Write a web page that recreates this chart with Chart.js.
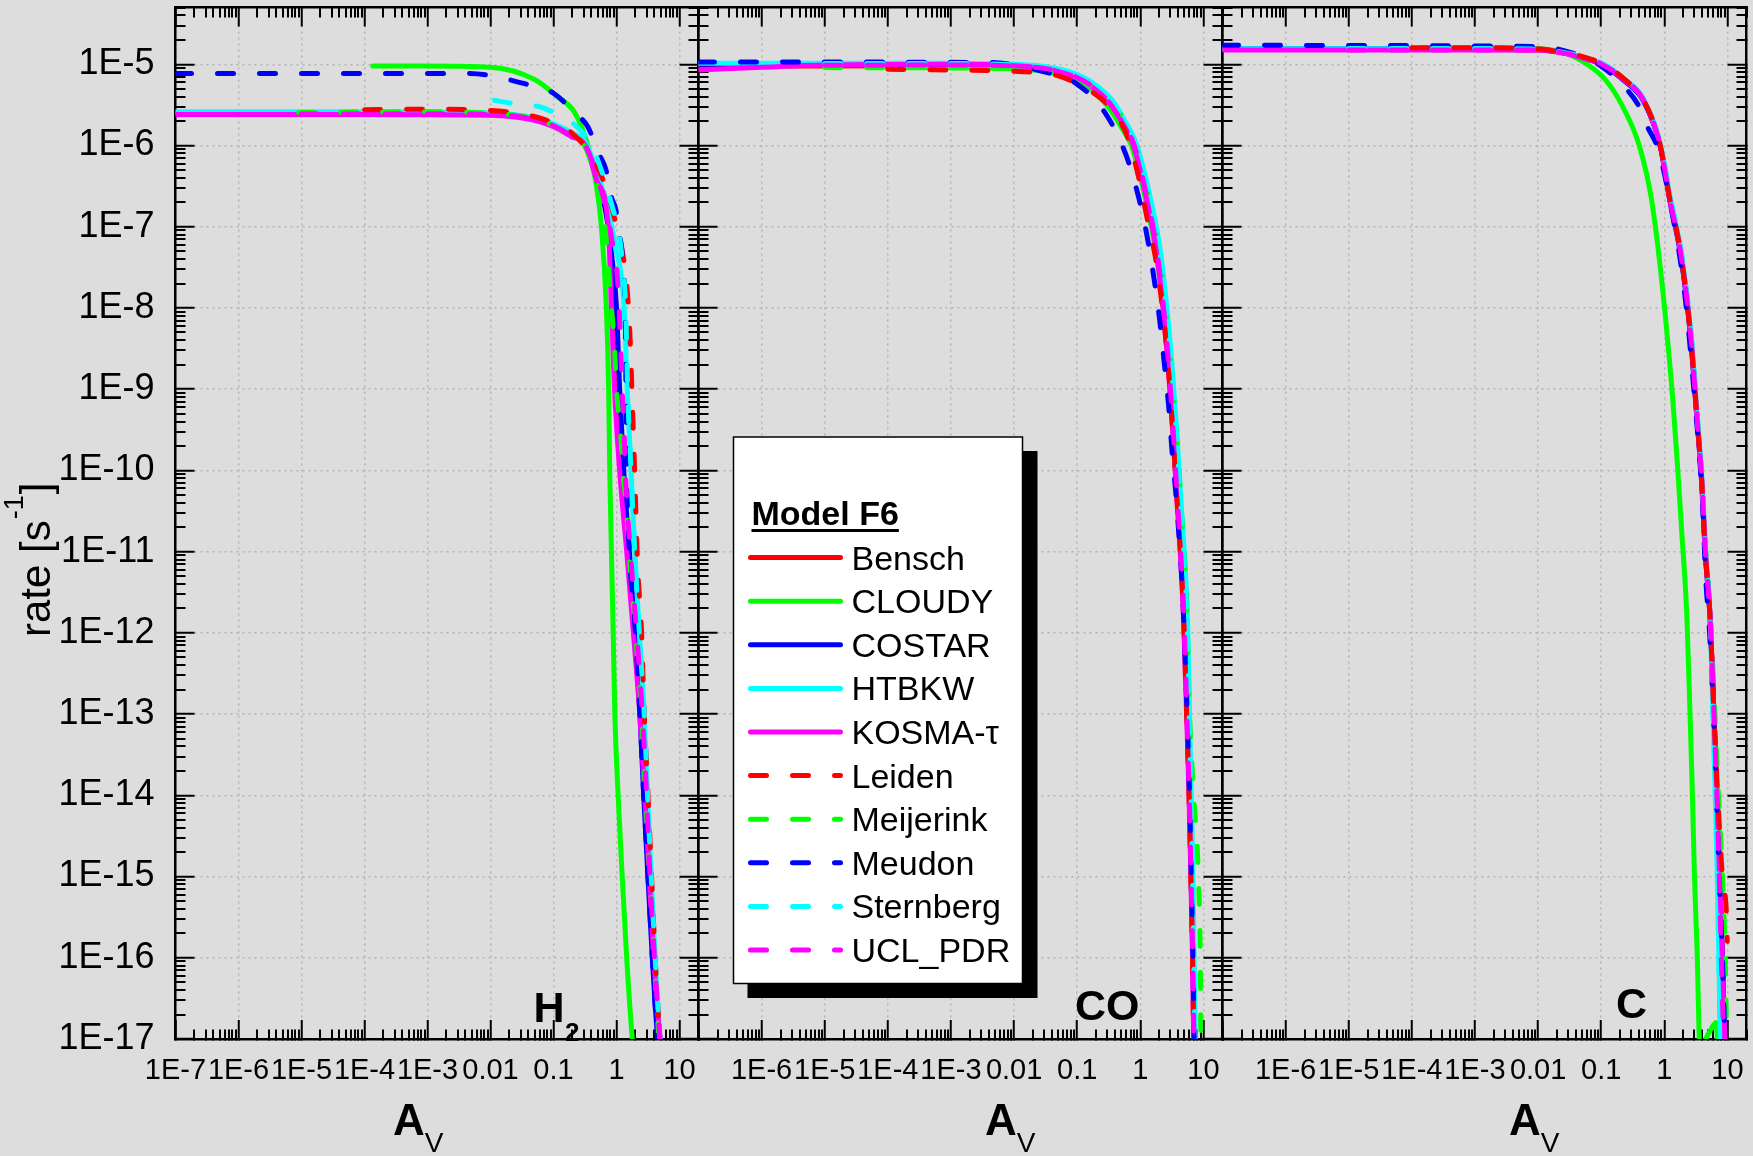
<!DOCTYPE html>
<html>
<head>
<meta charset="utf-8">
<title>Model F6 photo-rates</title>
<script src="https://cdn.jsdelivr.net/npm/chart.js@4.4.1/dist/chart.umd.min.js"></script>
<style>
  html, body { margin: 0; padding: 0; background: #dddddd; }
  #wrap { position: relative; width: 1753px; height: 1156px; overflow: hidden; background: #dddddd; }
  #wrap canvas { position: absolute; left: 0; top: 0; }
</style>
</head>
<body>
<div id="wrap">
  <canvas id="panelH2" width="1753" height="1156"></canvas>
  <canvas id="panelCO" width="1753" height="1156"></canvas>
  <canvas id="panelC" width="1753" height="1156"></canvas>
</div>
<script>
// ---------------- text / categories ----------------
const modelNames = ['Bensch', 'CLOUDY', 'COSTAR', 'HTBKW', 'KOSMA-\u03c4', 'Leiden', 'Meijerink', 'Meudon', 'Sternberg', 'UCL_PDR'];
const legendTitle = 'Model F6';
const speciesMain = ['H', 'CO', 'C'];
const speciesSub = ['2', '', ''];
const xTitleMain = 'A';
const xTitleSub = 'V';
const yTitleMain = 'rate [s';
const yTitleSup = '-1';
const yTitleEnd = ']';

// ---------------- tick labels ----------------
const xMajorTicks = [1e-7, 1e-6, 1e-5, 1e-4, 1e-3, 1e-2, 0.1, 1, 10];
const xTickLabels = ['1E-7', '1E-6', '1E-5', '1E-4', '1E-3', '0.01', '0.1', '1', '10'];
const yMajorTicks = [1e-17, 1e-16, 1e-15, 1e-14, 1e-13, 1e-12, 1e-11, 1e-10, 1e-9, 1e-8, 1e-7, 1e-6, 1e-5];
const yTickLabels = ['1E-17', '1E-16', '1E-15', '1E-14', '1E-13', '1E-12', '1E-11', '1E-10', '1E-9', '1E-8', '1E-7', '1E-6', '1E-5'];
const xRange = [1e-7, 20];
const yRange = [1e-17, 5e-5];

// ---------------- series values [Av, rate] : H2 panel ----------------
const h2Bensch = [[1e-7,2.5e-6],[1e-4,2.5e-6],[1e-2,2.42e-6],[0.05,2.1e-6],[0.1,1.75e-6],[0.19,1.33e-6],[0.32,1.0e-6],[0.5,3.6e-7],[0.76,1e-7],[0.86,1e-8],[0.96,1e-9],[1.15,1e-10],[1.5,1e-11],[1.9,1e-12],[2.4,1e-13],[2.85,1e-14],[3.35,1e-15],[3.95,1e-16],[4.9,1e-17],[5.3,6e-18]];
const h2CLOUDY = [[1.35e-4,9.5e-6],[1e-3,9.5e-6],[1e-2,9.2e-6],[0.05,6.5e-6],[0.115,4.0e-6],[0.22,2.5e-6],[0.35,1.0e-6],[0.48,3.2e-7],[0.575,1e-7],[0.69,1e-8],[0.75,1e-9],[0.78,1e-10],[0.83,1e-11],[0.885,1e-12],[0.94,1e-13],[1.06,1e-14],[1.23,1e-15],[1.45,1e-16],[1.78,1e-17],[1.9,6e-18]];
const h2COSTAR = [[1e-7,2.5e-6],[1e-4,2.5e-6],[1e-2,2.43e-6],[0.05,2.12e-6],[0.1,1.78e-6],[0.19,1.37e-6],[0.32,1.05e-6],[0.5,4e-7],[0.7,1.3e-7],[0.85,4e-8],[1.0,1e-8],[1.12,1e-9],[1.3,1e-10],[1.6,1e-11],[2.0,1e-12],[2.35,1e-13],[2.7,1e-14],[3.15,1e-15],[3.7,1e-16],[4.5,1e-17],[4.9,6e-18]];
const h2HTBKW = [[1e-7,2.6e-6],[1e-4,2.6e-6],[1e-2,2.52e-6],[0.05,2.2e-6],[0.1,1.85e-6],[0.19,1.45e-6],[0.32,1.1e-6],[0.5,4.5e-7],[0.72,1.7e-7],[0.95,6e-8],[1.32,1e-8],[1.48,1e-9],[1.7,1e-10],[1.95,1e-11],[2.3,1e-12],[2.75,1e-13],[3.1,1e-14],[3.55,1e-15],[4.1,1e-16],[4.9,1e-17],[5.3,6e-18]];
const h2KOSMA = [[1e-7,2.4e-6],[1e-4,2.4e-6],[1e-2,2.35e-6],[0.05,2.04e-6],[0.1,1.7e-6],[0.19,1.29e-6],[0.32,1e-6],[0.5,3.5e-7],[0.74,1e-7],[0.83,1e-8],[0.93,1e-9],[1.12,1e-10],[1.45,1e-11],[1.85,1e-12],[2.34,1e-13],[2.8,1e-14],[3.3,1e-15],[3.9,1e-16],[4.9,1e-17],[5.3,6e-18]];
const h2Leiden = [[1e-4,2.75e-6],[1e-3,2.8e-6],[1e-2,2.7e-6],[0.07,2.1e-6],[0.2,1.4e-6],[0.42,7e-7],[0.7,2.8e-7],[1.0,1e-7],[1.35,3.2e-8],[1.55,1e-8],[1.66,3.4e-9],[1.76,9e-10],[1.95,8.5e-11],[2.14,8e-12],[2.5,1e-12],[2.75,1e-13],[3.16,1e-14],[3.6,1e-15],[4.1,1e-16],[4.9,1e-17],[5.3,6e-18]];
const h2Meijerink = [[9e-6,2.55e-6],[1e-3,2.6e-6],[1e-2,2.5e-6],[0.05,2.15e-6],[0.1,1.75e-6],[0.19,1.3e-6],[0.32,9.5e-7],[0.5,3.2e-7],[0.66,1e-7],[0.74,3.2e-8],[0.83,1e-8],[0.93,3.2e-9],[1.0,1e-9],[1.15,3.2e-10],[1.26,1e-10],[1.45,3.2e-11],[1.58,1e-11],[2.0,1e-12],[2.5,1e-13],[2.9,1e-14],[3.4,1e-15],[4.0,1e-16],[4.7,1e-17],[5.1,6e-18]];
const h2Meudon = [[1e-7,7.7e-6],[4e-3,7.7e-6],[0.01,7.3e-6],[0.019,6.5e-6],[0.047,5.4e-6],[0.1,4.4e-6],[0.22,2.5e-6],[0.35,1.7e-6],[0.52,8e-7],[0.68,5e-7],[0.83,2.3e-7],[0.98,1.6e-7],[1.1,8e-8],[1.2,5.7e-8],[1.3,2.5e-8],[1.38,1e-8],[1.41,1e-9],[1.45,1e-10],[1.6,1e-11],[2.0,1e-12],[2.35,1e-13],[2.7,1e-14],[3.16,1e-15],[3.7,1e-16],[4.47,1e-17],[4.9,6e-18]];
const h2Sternberg = [[0.0115,3.6e-6],[0.022,3.3e-6],[0.06,3.0e-6],[0.105,2.5e-6],[0.22,1.78e-6],[0.4,1.0e-6],[0.6,4.5e-7],[0.85,1.8e-7],[1.1,8e-8],[1.26,3.2e-8],[1.4,1e-8],[1.5,1e-9],[1.7,1e-10],[1.95,1e-11],[2.3,1e-12],[2.75,1e-13],[3.1,1e-14],[3.55,1e-15],[4.1,1e-16],[4.9,1e-17],[5.3,6e-18]];
const h2UCL = [[1e-5,2.45e-6],[1e-3,2.45e-6],[1e-2,2.4e-6],[0.05,2.1e-6],[0.1,1.75e-6],[0.19,1.33e-6],[0.32,1e-6],[0.5,4e-7],[0.72,1.4e-7],[0.87,6e-8],[1.0,3.2e-8],[1.1,1e-8],[1.23,1e-9],[1.32,3.2e-10],[1.38,1e-10],[1.66,1e-11],[1.9,2.5e-12],[2.57,1e-13],[3.0,1e-14],[3.4,1e-15],[4.0,1e-16],[4.9,1e-17],[5.3,6e-18]];

// ---------------- series values [Av, rate] : CO panel ----------------
const coBensch = [[1e-7,9.5e-6],[1e-3,9.6e-6],[0.01,9.3e-6],[0.03,8.7e-6],[0.087,7.0e-6],[0.17,5.3e-6],[0.32,3.3e-6],[0.52,1.85e-6],[0.8,1e-6],[1.3,2.1e-7],[1.82,5.2e-8],[2.32,1e-8],[2.8,1.9e-9],[3.3,2.9e-10],[3.85,4.4e-11],[4.35,1e-11],[4.9,1.5e-12],[5.5,1e-13],[6.0,1e-14],[6.4,1e-15],[6.8,1e-16],[7.1,1e-17],[7.3,6e-18]];
const coCLOUDY = [[1.35e-4,9.1e-6],[1e-3,9.1e-6],[0.01,8.8e-6],[0.03,8.2e-6],[0.087,6.6e-6],[0.17,4.8e-6],[0.32,2.9e-6],[0.52,1.6e-6],[0.72,1e-6],[1.22,2.1e-7],[1.75,5e-8],[2.3,1e-8],[2.8,1.9e-9],[3.3,2.9e-10],[3.85,4.4e-11],[4.35,1e-11],[4.9,1.5e-12],[5.5,1e-13],[6.0,1e-14],[6.5,1e-15],[6.9,1e-16],[7.3,1e-17],[7.5,6e-18]];
const coCOSTAR = [[1e-7,1.0e-5],[1e-3,1.0e-5],[0.01,9.8e-6],[0.03,9.2e-6],[0.087,7.5e-6],[0.17,5.7e-6],[0.34,3.5e-6],[0.54,2e-6],[0.82,1e-6],[1.35,2.1e-7],[1.9,5.2e-8],[2.4,1e-8],[2.9,1.9e-9],[3.45,2.9e-10],[4.0,4.4e-11],[4.5,1e-11],[5.1,1.5e-12],[5.6,1e-13],[6.1,1e-14],[6.5,1e-15],[6.9,1e-16],[7.2,1e-17],[7.4,6e-18]];
const coHTBKW = [[1e-7,1.03e-5],[1e-3,1.03e-5],[0.01,1.0e-5],[0.03,9.4e-6],[0.087,7.8e-6],[0.17,6.0e-6],[0.36,3.6e-6],[0.55,2.1e-6],[0.88,1e-6],[1.47,2.1e-7],[2.06,5.2e-8],[2.63,1e-8],[3.19,1.9e-9],[3.78,2.9e-10],[4.39,4.4e-11],[4.95,1e-11],[5.58,1.5e-12],[6.0,1e-13],[6.4,1e-14],[6.8,1e-15],[7.1,1e-16],[7.4,1e-17],[7.6,6e-18]];
const coKOSMA = [[1e-7,8.5e-6],[1e-6,9.2e-6],[1e-5,9.8e-6],[1e-3,1.0e-5],[0.01,9.6e-6],[0.03,8.9e-6],[0.087,7.1e-6],[0.17,5.3e-6],[0.32,3.4e-6],[0.52,1.9e-6],[0.78,1e-6],[1.27,2.1e-7],[1.78,5.2e-8],[2.28,1e-8],[2.76,1.9e-9],[3.27,2.9e-10],[3.79,4.4e-11],[4.28,1e-11],[4.83,1.5e-12],[5.4,1e-13],[5.9,1e-14],[6.3,1e-15],[6.7,1e-16],[7.0,1e-17],[7.2,6e-18]];
const coLeiden = [[1e-4,8.7e-6],[1e-3,8.5e-6],[0.01,8.2e-6],[0.05,7.2e-6],[0.2,4.2e-6],[0.35,2.8e-6],[0.62,1.3e-6],[0.93,4.2e-7],[1.3,1.2e-7],[1.75,4e-8],[2.2,1.1e-8],[2.76,1.9e-9],[3.27,2.9e-10],[3.8,4.4e-11],[4.3,1e-11],[4.85,1.5e-12],[5.4,1e-13],[5.9,1e-14],[6.3,1e-15],[6.7,1e-16],[7.0,1e-17],[7.2,6e-18]];
const coMeijerink = [[1e-5,9.1e-6],[1e-3,9.0e-6],[0.01,8.8e-6],[0.05,7.8e-6],[0.17,5.3e-6],[0.35,3.1e-6],[0.65,1.7e-6],[1.06,5e-7],[1.52,1.5e-7],[1.98,4.7e-8],[2.39,1.4e-8],[2.73,4.4e-9],[3.16,1.4e-9],[3.57,4.2e-10],[4.03,1.26e-10],[4.39,3.8e-11],[4.83,1.2e-11],[5.32,3.5e-12],[6.0,1e-13],[7.0,1e-14],[8.3,1e-15],[8.9,1e-16],[9.1,1e-17],[9.2,6e-18]];
const coMeudon = [[1e-7,1.07e-5],[4e-3,1.05e-5],[0.045,7.4e-6],[0.093,5.9e-6],[0.27,2.6e-6],[0.59,7.7e-7],[0.94,2.3e-7],[1.3,7.1e-8],[1.66,2.2e-8],[2.04,6.7e-9],[2.39,2.1e-9],[2.8,6.3e-10],[3.16,1.8e-10],[3.66,5e-11],[4.08,1.6e-11],[4.5,5e-12],[4.8,1.8e-12],[5.5,1e-13],[6.0,1e-14],[6.4,1e-15],[6.8,1e-16],[7.1,1e-17],[7.3,6e-18]];
const coSternberg = [[1e-5,1.02e-5],[1e-3,1.02e-5],[0.01,9.9e-6],[0.03,9.3e-6],[0.087,7.7e-6],[0.17,5.9e-6],[0.35,3.5e-6],[0.55,2.05e-6],[0.86,1e-6],[1.42,2.1e-7],[2.0,5.2e-8],[2.55,1e-8],[3.1,1.9e-9],[3.7,2.9e-10],[4.3,4.4e-11],[4.85,1e-11],[5.45,1.5e-12],[5.9,1e-13],[6.3,1e-14],[6.7,1e-15],[7.0,1e-16],[7.3,1e-17],[7.5,6e-18]];
const coUCL = [[1e-5,9.7e-6],[1e-3,9.8e-6],[0.01,9.5e-6],[0.03,8.9e-6],[0.087,7.2e-6],[0.17,5.4e-6],[0.32,3.4e-6],[0.52,1.9e-6],[0.8,1e-6],[1.3,2.1e-7],[1.82,5.2e-8],[2.33,1e-8],[2.82,1.9e-9],[3.33,2.9e-10],[3.85,4.4e-11],[4.35,1e-11],[4.9,1.5e-12],[5.45,1e-13],[5.95,1e-14],[6.35,1e-15],[6.75,1e-16],[7.05,1e-17],[7.25,6e-18]];

// ---------------- series values [Av, rate] : C panel ----------------
const cBensch = [[1e-7,1.52e-5],[1e-3,1.52e-5],[0.01,1.5e-5],[0.022,1.4e-5],[0.049,1.22e-5],[0.1,1.0e-5],[0.23,6.4e-6],[0.47,3.6e-6],[0.86,1.0e-6],[1.23,2.2e-7],[1.78,5.4e-8],[2.28,1.3e-8],[2.73,3.2e-9],[3.27,4.8e-10],[3.93,7.2e-11],[4.44,1.1e-11],[5.32,1.5e-12],[6.1,1e-13],[6.8,1e-14],[7.5,1e-15],[8.3,1e-16],[9.1,1e-17],[9.4,6e-18]];
const cCLOUDY = [[1.35e-4,1.6e-5],[1e-3,1.6e-5],[0.01,1.55e-5],[0.025,1.4e-5],[0.062,9.8e-6],[0.117,6.4e-6],[0.21,3.2e-6],[0.4,1e-6],[0.63,2.1e-7],[0.86,3.2e-8],[1.1,4.9e-9],[1.36,7.4e-10],[1.62,1.1e-10],[1.89,1.7e-11],[2.28,1.5e-12],[2.55,1e-13],[2.75,1.4e-14],[3.0,1e-15],[3.3,1.2e-16],[3.66,8e-18],[5.1,1.2e-17],[6.6,1.6e-17],[7.2,5e-18]];
const cCOSTAR = [[1e-7,1.55e-5],[1e-3,1.55e-5],[0.01,1.52e-5],[0.022,1.41e-5],[0.049,1.22e-5],[0.1,1.0e-5],[0.23,6.3e-6],[0.47,3.5e-6],[0.86,9.8e-7],[1.22,2.1e-7],[1.76,5.1e-8],[2.26,1.25e-8],[2.7,3.1e-9],[3.25,4.7e-10],[3.9,7e-11],[4.4,1.05e-11],[5.3,1.5e-12],[6.1,1e-13],[6.8,1e-14],[7.5,1e-15],[8.3,1e-16],[9.0,1e-17],[9.3,6e-18]];
const cHTBKW = [[1e-7,1.55e-5],[1e-3,1.55e-5],[0.01,1.53e-5],[0.022,1.42e-5],[0.049,1.24e-5],[0.1,1.03e-5],[0.23,6.6e-6],[0.47,3.7e-6],[0.86,1.05e-6],[1.25,2.2e-7],[1.8,5.4e-8],[2.3,1.3e-8],[2.76,3.2e-9],[3.3,4.8e-10],[3.95,7.2e-11],[4.45,1.1e-11],[5.3,1.5e-12],[5.9,1e-13],[6.4,1e-14],[6.9,1e-15],[7.3,1e-16],[7.7,1e-17],[7.9,6e-18]];
const cKOSMA = [[1e-7,1.5e-5],[1e-3,1.5e-5],[0.01,1.5e-5],[0.022,1.4e-5],[0.049,1.2e-5],[0.1,1.0e-5],[0.23,6.4e-6],[0.47,3.6e-6],[0.86,9.8e-7],[1.23,2.1e-7],[1.78,5.2e-8],[2.28,1.26e-8],[2.73,3.1e-9],[3.27,4.7e-10],[3.93,7.1e-11],[4.44,1.07e-11],[5.32,1.5e-12],[6.1,1e-13],[6.8,1e-14],[7.5,1e-15],[8.3,1e-16],[9.1,1e-17],[9.4,6e-18]];
const cLeiden = [[1e-4,1.6e-5],[1e-3,1.6e-5],[0.01,1.55e-5],[0.022,1.42e-5],[0.049,1.25e-5],[0.1,1.03e-5],[0.23,6.6e-6],[0.47,3.6e-6],[0.86,1.0e-6],[1.2,2.3e-7],[1.75,5.6e-8],[2.25,1.3e-8],[2.7,3.2e-9],[3.25,4.8e-10],[3.9,7.2e-11],[4.4,1.1e-11],[5.3,1.5e-12],[6.1,1e-13],[7.0,1e-14],[8.3,1e-15],[9.7,3e-16],[9.9,1.6e-16]];
const cMeijerink = [[1e-5,1.55e-5],[1e-3,1.56e-5],[0.01,1.54e-5],[0.022,1.42e-5],[0.049,1.23e-5],[0.1,1.02e-5],[0.23,6.5e-6],[0.47,3.6e-6],[0.86,1e-6],[1.24,2.2e-7],[1.8,5.3e-8],[2.3,1.3e-8],[2.75,3.2e-9],[3.3,4.8e-10],[3.95,7.2e-11],[4.5,1.1e-11],[5.4,1.5e-12],[6.3,1e-13],[7.2,1e-14],[8.3,1e-15],[9.2,1e-16],[9.7,1e-17],[9.9,6e-18]];
const cMeudon = [[1e-7,1.71e-5],[0.01,1.65e-5],[0.05,1.25e-5],[0.1,9.5e-6],[0.22,5.5e-6],[0.39,3.1e-6],[0.54,1.7e-6],[0.8,9e-7],[1.0,4.5e-7],[1.3,1.6e-7],[1.7,5e-8],[2.1,1.5e-8],[2.5,4e-9],[3.1,6e-10],[3.6,1.5e-10],[4.0,4.5e-11],[4.5,5e-12],[5.2,1e-12],[6.0,1e-13],[6.7,1e-14],[7.4,1e-15],[8.3,1e-16],[9.1,1e-17],[9.4,6e-18]];
const cSternberg = [[1e-5,1.56e-5],[1e-3,1.56e-5],[0.01,1.54e-5],[0.022,1.43e-5],[0.049,1.25e-5],[0.1,1.04e-5],[0.23,6.7e-6],[0.47,3.7e-6],[0.86,1.05e-6],[1.26,2.2e-7],[1.82,5.4e-8],[2.32,1.3e-8],[2.78,3.2e-9],[3.32,4.8e-10],[3.97,7.2e-11],[4.47,1.1e-11],[5.3,1.5e-12],[5.9,1e-13],[6.4,1e-14],[6.9,1e-15],[7.3,1e-16],[7.6,1e-17],[7.8,6e-18]];
const cUCL = [[1e-5,1.5e-5],[1e-3,1.5e-5],[0.01,1.5e-5],[0.022,1.4e-5],[0.049,1.22e-5],[0.1,1.01e-5],[0.23,6.5e-6],[0.47,3.6e-6],[0.86,1e-6],[1.23,2.1e-7],[1.78,5.2e-8],[2.28,1.26e-8],[2.73,3.1e-9],[3.27,4.7e-10],[3.93,7.1e-11],[4.44,1.07e-11],[5.32,1.5e-12],[6.1,1e-13],[6.8,1e-14],[7.4,1e-15],[8.0,1e-16],[8.7,1e-17],[9.0,6e-18]];

const panelSeries = [
  [h2Bensch, h2CLOUDY, h2COSTAR, h2HTBKW, h2KOSMA, h2Leiden, h2Meijerink, h2Meudon, h2Sternberg, h2UCL],
  [coBensch, coCLOUDY, coCOSTAR, coHTBKW, coKOSMA, coLeiden, coMeijerink, coMeudon, coSternberg, coUCL],
  [cBensch, cCLOUDY, cCOSTAR, cHTBKW, cKOSMA, cLeiden, cMeijerink, cMeudon, cSternberg, cUCL]
];

// ---------------- styles & layout ----------------
const FONT = '"Liberation Sans", Arial, Helvetica, sans-serif';
const modelColors = ['#ff0000', '#00ff00', '#0000ff', '#00ffff', '#ff00ff', '#ff0000', '#00ff00', '#0000ff', '#00ffff', '#ff00ff'];
const modelDashed = [false, false, false, false, false, true, true, true, true, true];
const DASH = [16, 26];
const GRID_COLOR = '#b4b4b4';
const GRID_DASH = [2, 4];
const CANVAS_W = 1753, CANVAS_H = 1156;
const panelLeft = [175.5, 698.5, 1222.5];
const panelRight = [698.5, 1222.5, 1746.5];
const panelTop = 7.5, panelBottom = 1039;
const canvasIds = ['panelH2', 'panelCO', 'panelC'];
const xTitleLeft = [393, 985, 1509];
const speciesX = [533.5, 1075, 1616];
const speciesBase = [1021.5, 1020, 1018];

Chart.defaults.font.family = FONT;
Chart.defaults.color = '#000';

function buildTickList(min, max) {
  const out = [];
  const e0 = Math.floor(Math.log10(min) + 1e-9), e1 = Math.ceil(Math.log10(max) - 1e-9);
  for (let e = e0; e <= e1; e++) {
    for (let k = 1; k <= 9; k++) {
      const v = parseFloat((k * Math.pow(10, e)).toPrecision(6));
      if (v >= min * 0.9999 && v <= max * 1.0001) out.push({ value: v, major: k === 1 });
    }
  }
  return out;
}

function labelFor(value, majors, labels, hideFirst) {
  const idx = majors.findIndex(m => Math.abs(Math.log10(m) - Math.log10(value)) < 1e-6);
  if (idx < 0) return '';
  if (hideFirst && idx === 0) return '';
  return labels[idx];
}

// boxSize: pixel thickness reserved for the scale box (labels are clipped to it)
function logAxis(axis, position, showLabels, hideFirst, boxSize) {
  const isX = axis === 'x';
  const range = isX ? xRange : yRange;
  const majors = isX ? xMajorTicks : yMajorTicks;
  const labels = isX ? xTickLabels : yTickLabels;
  const outward = (position === 'bottom' || position === 'right');
  const minorDash = outward ? [11, 300] : [0, 9, 11, 300];
  const isMain = (position === 'bottom' || position === 'left');
  return {
    type: 'logarithmic',
    axis: axis,
    position: position,
    display: true,
    min: range[0],
    max: range[1],
    afterBuildTicks: (s) => { s.ticks = buildTickList(range[0], range[1]); },
    afterFit: (s) => {
      if (isX) s.height = boxSize; else s.width = boxSize;
      s.paddingLeft = 0; s.paddingRight = 0; s.paddingTop = 0; s.paddingBottom = 0;
    },
    ticks: {
      display: showLabels,
      autoSkip: false,
      maxRotation: 0,
      minRotation: 0,
      padding: isX ? 34 : 40,
      color: '#000',
      font: { family: FONT, size: isX ? 29 : 36 },
      callback: (value) => labelFor(value, majors, labels, hideFirst)
    },
    grid: {
      display: true,
      drawOnChartArea: isMain,
      drawTicks: true,
      tickLength: -19,
      color: (ctx) => (ctx.tick && ctx.tick.major) ? GRID_COLOR : 'rgba(0,0,0,0)',
      lineWidth: (ctx) => (ctx.tick && ctx.tick.major) ? 1.5 : 0,
      borderDash: GRID_DASH,
      tickColor: '#000',
      tickWidth: 2,
      tickBorderDash: (ctx) => (ctx.tick && ctx.tick.major) ? [] : minorDash
    },
    border: { display: true, color: '#000', width: 2.5, dash: GRID_DASH }
  };
}

function textPlugin(p) {
  return {
    id: 'panelText' + p,
    afterDraw(chart) {
      const ctx = chart.ctx;
      ctx.save();
      ctx.fillStyle = '#000';
      ctx.textAlign = 'left';
      ctx.textBaseline = 'alphabetic';
      // x-axis title  A_V
      ctx.font = 'bold 44px ' + FONT;
      ctx.fillText(xTitleMain, xTitleLeft[p], 1135);
      const aw = ctx.measureText(xTitleMain).width;
      ctx.font = '28px ' + FONT;
      ctx.fillText(xTitleSub, xTitleLeft[p] + aw, 1152);
      // species label
      ctx.font = 'bold 43px ' + FONT;
      ctx.fillText(speciesMain[p], speciesX[p], speciesBase[p]);
      if (speciesSub[p]) {
        const sw = ctx.measureText(speciesMain[p]).width;
        ctx.font = 'bold 26px ' + FONT;
        ctx.fillText(speciesSub[p], speciesX[p] + sw + 0.5, speciesBase[p] + 19.5);
      }
      // y-axis title (first panel only)
      if (p === 0) {
        ctx.translate(50, 637);
        ctx.rotate(-Math.PI / 2);
        ctx.font = '42px ' + FONT;
        ctx.fillText(yTitleMain, 0, 0);
        const w1 = ctx.measureText(yTitleMain).width;
        ctx.font = '27px ' + FONT;
        ctx.fillText(yTitleSup, w1 + 1, -27);
        const w2 = ctx.measureText(yTitleSup).width;
        ctx.font = '42px ' + FONT;
        ctx.fillText(yTitleEnd, w1 + w2 + 2, 0);
      }
      ctx.restore();
    }
  };
}

const legendPlugin = {
  id: 'modelLegend',
  afterDraw(chart) {
    const ctx = chart.ctx;
    ctx.save();
    ctx.fillStyle = '#000';
    ctx.fillRect(747.5, 451, 290, 547);
    ctx.fillStyle = '#ffffff';
    ctx.fillRect(733.5, 437, 289, 546.5);
    ctx.lineWidth = 1.5;
    ctx.strokeStyle = '#000';
    ctx.strokeRect(733.5, 437, 289, 546.5);
    ctx.fillStyle = '#000';
    ctx.textAlign = 'left';
    ctx.textBaseline = 'alphabetic';
    ctx.font = 'bold 34px ' + FONT;
    ctx.fillText(legendTitle, 751.5, 525);
    const tw = ctx.measureText(legendTitle).width;
    ctx.fillRect(751.5, 529, tw, 3);
    chart.data.datasets.forEach((ds, i) => {
      const y = 557.6 + i * 43.6;
      ctx.beginPath();
      ctx.strokeStyle = ds.borderColor;
      ctx.lineWidth = 5;
      ctx.lineCap = 'round';
      ctx.setLineDash(ds.borderDash || []);
      ctx.moveTo(750.5, y);
      ctx.lineTo(840.5, y);
      ctx.stroke();
      ctx.setLineDash([]);
      ctx.fillStyle = '#000';
      ctx.font = '34px ' + FONT;
      ctx.fillText(ds.label, 851.5, y + 12);
    });
    ctx.restore();
  }
};

function makePanel(p) {
  const datasets = panelSeries[p].map((arr, i) => ({
    label: modelNames[i],
    data: arr.map(pt => ({ x: pt[0], y: pt[1] })),
    borderColor: modelColors[i],
    backgroundColor: modelColors[i],
    borderWidth: 5,
    borderDash: modelDashed[i] ? DASH : [],
    borderCapStyle: 'round',
    borderJoinStyle: 'round',
    pointRadius: 0,
    pointHoverRadius: 0,
    fill: false,
    cubicInterpolationMode: 'monotone',
    xAxisID: 'x',
    yAxisID: 'y',
    order: -i
  }));
  const plugins = [textPlugin(p)];
  if (p === 1) plugins.push(legendPlugin);
  const leftBox = p === 0 ? panelLeft[0] : 0;
  const bottomBox = CANVAS_H - panelBottom;
  return new Chart(document.getElementById(canvasIds[p]), {
    type: 'line',
    data: { datasets },
    options: {
      responsive: false,
      animation: false,
      devicePixelRatio: 1,
      events: [],
      layout: {
        autoPadding: false,
        padding: { left: panelLeft[p] - leftBox, right: CANVAS_W - panelRight[p], top: panelTop, bottom: 0 }
      },
      plugins: { legend: { display: false }, tooltip: { enabled: false }, title: { display: false } },
      scales: {
        x: logAxis('x', 'bottom', true, p > 0, bottomBox),
        xTop: logAxis('x', 'top', false, false, 0),
        y: logAxis('y', 'left', p === 0, false, leftBox),
        yRight: logAxis('y', 'right', false, false, 0)
      }
    },
    plugins
  });
}

[0, 1, 2].forEach(makePanel);
</script>
</body>
</html>
